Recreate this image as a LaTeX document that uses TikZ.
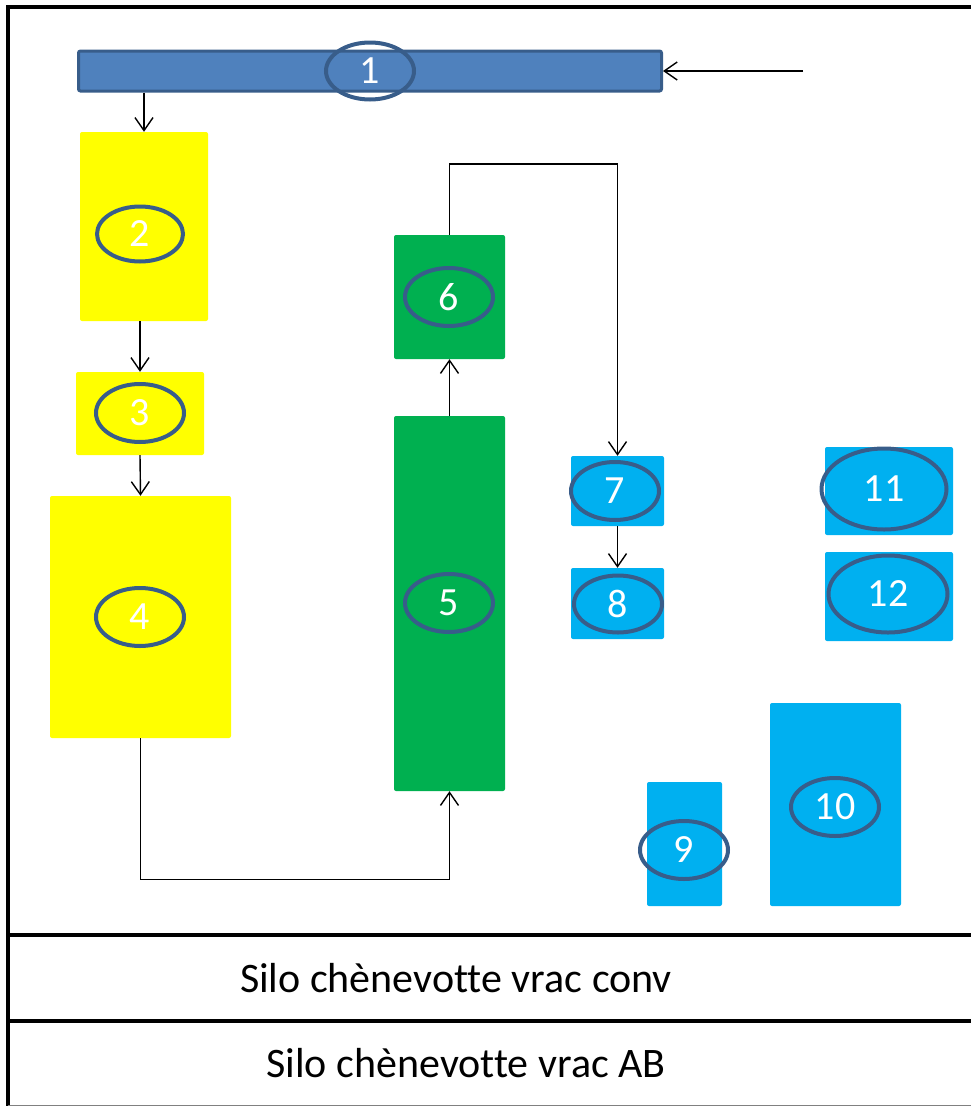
\documentclass[tikz,border=0pt]{standalone}
\usepackage{fontspec}
\setmainfont{Carlito}[Ligatures={NoCommon}]
\usetikzlibrary{arrows.meta,shapes.geometric}
\definecolor{barblue}{HTML}{4F81BD}
\definecolor{darkblue}{HTML}{385D8A}
\definecolor{siloyellow}{HTML}{FFFF00}
\definecolor{silogreen}{HTML}{00B050}
\definecolor{siloblue}{HTML}{00B0F0}
\begin{document}
\begin{tikzpicture}[x=1pt,y=-1pt,
    box/.style={rectangle,rounded corners=2pt,inner sep=0pt},
    tag/.style={ellipse,draw=darkblue,line width=4pt,inner sep=0pt,
      text=white,font=\fontsize{40}{42}\selectfont},
    flow/.style={line width=1.4pt,-{Straight Barb[length=13pt,width=18pt]}},
    frame/.style={line width=4pt},
    rowtext/.style={anchor=base,font=\fontsize{42}{46}\selectfont}]
      \useasboundingbox (0,0) rectangle (970,1106) ;
      % cadre et lignes du tableau
      \draw[frame] (8,1106) -- (8,7) -- (975,7) ;
      \draw[frame] (8,935) -- (975,935) ;
      \draw[frame] (8,1021) -- (975,1021) ;
      \draw[gray,thin] (8,1105) -- (975,1105) ;
      % boites
      \node[box,fill=barblue,draw=darkblue,line width=3pt,minimum width=583pt,%
        minimum height=40pt] (b1) at (370,71) {} ;
      \node[box,fill=siloyellow,minimum width=128pt,minimum height=189pt] (b2) at (144,226.5) {} ;
      \node[box,fill=siloyellow,minimum width=128pt,minimum height=83pt] (b3) at (140,413.5) {} ;
      \node[box,fill=siloyellow,minimum width=181pt,minimum height=242pt] (b4) at (140.5,617) {} ;
      \node[box,fill=silogreen,minimum width=111pt,minimum height=375pt] (b5) at (449.5,603.5) {} ;
      \node[box,fill=silogreen,minimum width=111pt,minimum height=124pt] (b6) at (449.5,297) {} ;
      \node[box,fill=siloblue,minimum width=93pt,minimum height=70pt] (b7) at (617.5,491) {} ;
      \node[box,fill=siloblue,minimum width=93pt,minimum height=71pt] (b8) at (617.5,603.5) {} ;
      \node[box,fill=siloblue,minimum width=75pt,minimum height=124pt] (b9) at (684.5,844) {} ;
      \node[box,fill=siloblue,minimum width=131pt,minimum height=203pt] (b10) at (835.5,804.5) {} ;
      \node[box,fill=siloblue,minimum width=128pt,minimum height=88pt] (b11) at (889,491) {} ;
      \node[box,fill=siloblue,minimum width=128pt,minimum height=89pt] (b12) at (889,596.5) {} ;
      % numeros
      \node[tag,minimum width=88pt,minimum height=57pt] (e1) at (370,71) {1} ;
      \node[tag,minimum width=86pt,minimum height=55pt] (e2) at (140,234) {2} ;
      \node[tag,minimum width=88pt,minimum height=58pt] (e3) at (140,413) {3} ;
      \node[tag,minimum width=88pt,minimum height=58pt] (e4) at (140,617) {4} ;
      \node[tag,minimum width=88pt,minimum height=58pt] (e5) at (449,603) {5} ;
      \node[tag,minimum width=88pt,minimum height=58pt] (e6) at (449,297) {6} ;
      \node[tag,minimum width=88pt,minimum height=58pt] (e7) at (615,491) {7} ;
      \node[tag,minimum width=88pt,minimum height=57pt] (e8) at (618,604) {8} ;
      \node[tag,minimum width=88pt,minimum height=58pt] (e9) at (684,850) {9} ;
      \node[tag,minimum width=88pt,minimum height=58pt] (e10) at (835,807) {10} ;
      \node[tag,minimum width=125pt,minimum height=81pt] (e11) at (884,489) {11} ;
      \node[tag,minimum width=119pt,minimum height=77pt] (e12) at (888,594) {12} ;
      % circuit
      \coordinate (in1) at (803,71) ;
      \draw[flow] (in1) -- (b1.east) ;
      \draw[flow] (b2.north |- b1.south) -- (b2.north) ;
      \draw[flow] (b2.south -| b3.north) -- (b3.north) ;
      \draw[flow] (b3.south) -- (b4.north) ;
      \draw[flow] (b4.south) -- ++(0,141) -| (b5.south) ;
      \draw[flow] (b5.north) -- (b6.south) ;
      \draw[flow] (b6.north) -- ++(0,-71) -| (b7.north) ;
      \draw[flow] (b7.south) -- (b8.north) ;
      % silos
      \node[rowtext] (conv) at (456,992) {Silo chènevotte vrac conv} ;
      \node[rowtext] (ab) at (466,1077) {Silo chènevotte vrac AB} ;
    \end{tikzpicture}
\end{document}
